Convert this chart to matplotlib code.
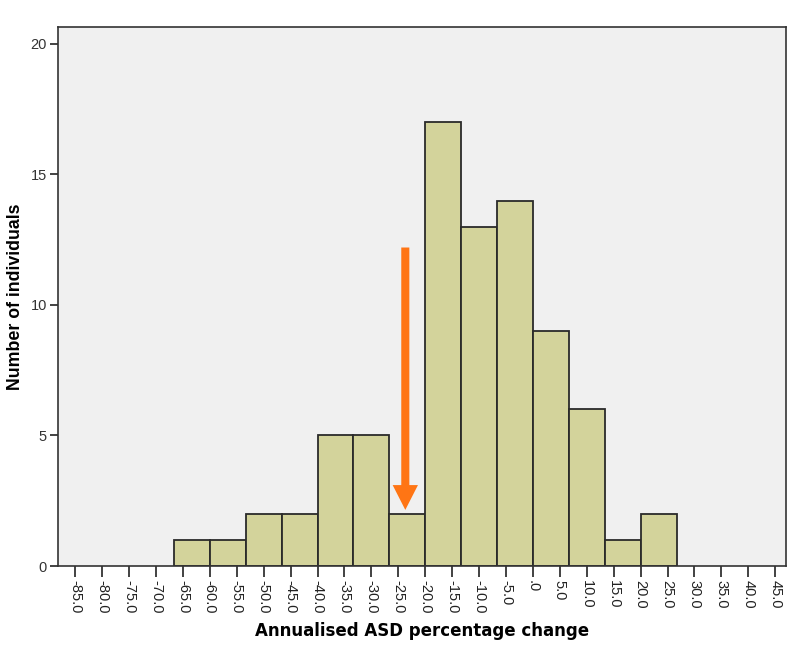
import numpy as np
import matplotlib.pyplot as plt
from matplotlib.patches import FancyArrow

# histogram counts (14 bins, width 20/3, edges at -20 + k*20/3)
counts = [1, 1, 2, 2, 5, 5, 2, 17, 13, 14, 9, 6, 1, 2]
bin_width = 20.0 / 3.0
first_edge = -20.0 - 7 * bin_width

tick_vals = np.arange(-85, 50, 5)
tick_labels = ['.0' if v == 0 else '%.1f' % v for v in tick_vals]
y_ticks = [0, 5, 10, 15, 20]

# arrow marking the change
arrow_x = -23.7
arrow_top = 12.2
arrow_tip = 2.15

fig = plt.figure(figsize=(8, 6.53), dpi=100, facecolor='w')
ax = fig.add_axes([0.0725, 0.1332, 0.91, 0.8248])
ax.set_facecolor('#f0f0f0')

edges = first_edge + bin_width * np.arange(len(counts))
ax.bar(edges, counts, width=bin_width, align='edge', color='#d3d39b',
       edgecolor='#2a2a2a', linewidth=1.3, zorder=2)

ax.add_patch(FancyArrow(arrow_x, arrow_top, 0, -(arrow_top - arrow_tip),
                        width=1.5, head_width=4.7, head_length=0.95,
                        length_includes_head=True, color='#ff7514', lw=0, zorder=3))

ax.set_xlim(-88.2, 47.0)
ax.set_ylim(0, 20.63)

ax.set_xticks(tick_vals)
ax.set_xticklabels(tick_labels, rotation=270, fontsize=10.5, family='Liberation Sans', color='#222')
ax.set_yticks(y_ticks)
ax.set_yticklabels([str(v) for v in y_ticks], fontsize=10.5, family='Liberation Sans', color='#333')
ax.tick_params(axis='x', length=8, width=1.2, pad=2, color='#222')
ax.tick_params(axis='y', length=6, width=1.2, pad=2, color='#222')

for s in ax.spines.values():
    s.set_color('#333')
    s.set_linewidth(1.2)

ax.set_xlabel('Annualised ASD percentage change', fontsize=12, fontweight='bold',
              family='DejaVu Sans', labelpad=6)
ax.set_ylabel('Number of individuals', fontsize=12.8, fontweight='bold',
              family='Liberation Sans', labelpad=5)

fig.savefig('out.png', dpi=100)
